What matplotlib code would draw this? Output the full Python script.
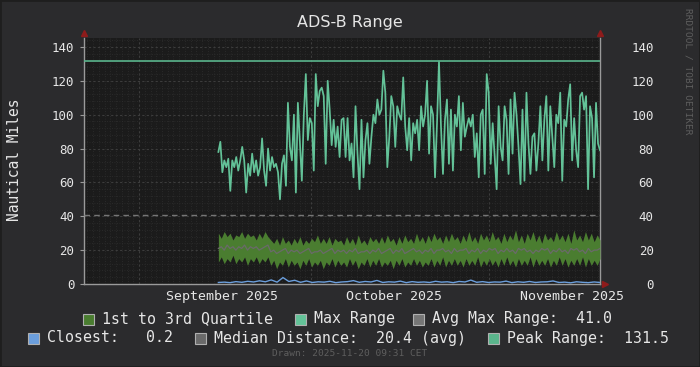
import datetime as dt
import numpy as np
import matplotlib
matplotlib.use("Agg")
import matplotlib.pyplot as plt
import matplotlib.dates as mdates
import matplotlib.transforms as mtransforms
from matplotlib.patches import Rectangle

# time span of the graph
t_start = dt.datetime(2025, 8, 22, 9, 31)
t_end = dt.datetime(2025, 11, 20, 9, 31)
t_data = dt.datetime(2025, 9, 14, 20, 0)

months = [dt.datetime(2025, 9, 1), dt.datetime(2025, 10, 1), dt.datetime(2025, 11, 1)]
month_labels = ["September 2025", "October 2025", "November 2025"]

peak_range = 131.5
avg_max_range = 41.0
median_avg = 20.4
closest_min = 0.2

max_range = [78, 84, 66, 73, 69, 74, 55, 73, 69, 75, 67, 73, 81, 73, 54, 71, 64, 77, 66, 73,
             64, 69, 86, 67, 58, 80, 67, 75, 69, 71, 66, 50, 71, 76, 58, 107, 81, 73, 100, 54,
             107, 84, 61, 100, 124, 85, 98, 95, 67, 124, 105, 114, 116, 111, 71, 120, 103, 82, 97,
             81, 93, 75, 97, 98, 75, 98, 73, 83, 63, 105, 77, 56, 97, 63, 85, 95, 71, 87, 100,
             95, 109, 100, 103, 126, 113, 69, 87, 111, 105, 81, 105, 100, 97, 122, 93, 79, 98, 73,
             95, 89, 97, 79, 105, 93, 100, 120, 77, 105, 100, 63, 95, 131.5, 93, 65, 97, 109, 71,
             103, 67, 100, 93, 111, 79, 107, 87, 93, 98,
             93, 100, 75, 89, 63, 100, 103, 65, 124, 113, 71, 95, 75, 56, 105, 81, 73, 105, 97,
             65, 109, 77, 113, 100, 81, 59, 103, 61, 113, 83, 65, 87, 89, 67, 83, 105, 73, 97,
             111, 67, 105, 87, 69, 100, 95, 113, 61, 97, 93, 109, 118, 73, 98, 79, 69, 111, 113,
             103, 111, 56, 105, 98, 63, 107, 83, 79]

q3 = [30, 27, 31, 28, 30, 26, 29, 28, 31, 27, 30, 28, 29, 26, 30, 27, 31, 28,
      26, 24, 27, 23, 28, 24, 26, 23, 27, 24, 28, 23, 26, 24, 27, 25, 29, 24,
      27, 24, 28, 23, 27, 25, 26, 23, 28, 24, 27, 23, 29, 24, 26, 23, 28, 25,
      27, 24, 28, 24, 29, 25, 27, 23, 28, 24, 29, 25, 27, 24, 30, 25, 28, 24,
      29, 25, 30, 26, 28, 24, 29, 25, 30, 26, 28, 24, 29, 25, 31, 25, 28, 24,
      30, 26, 29, 25, 31, 26, 28, 24, 30, 25, 29, 26, 32, 25, 29, 24, 30, 26,
      31, 25, 29, 24, 30, 26, 28, 25, 31, 26, 29, 25, 30, 24, 32, 26, 29, 25,
      31, 26, 30, 25, 29, 26]

q1 = [13, 16, 12, 15, 13, 17, 12, 15, 13, 16, 11, 15, 13, 16, 12, 15, 13, 16,
      11, 14, 9, 13, 11, 15, 10, 14, 11, 13, 9, 14, 11, 15, 10, 13, 11, 14,
      9, 13, 11, 15, 10, 14, 11, 13, 10, 15, 11, 14, 9, 13, 11, 15, 10, 14,
      11, 15, 10, 13, 11, 14, 9, 14, 11, 15, 10, 13, 11, 15, 11, 14, 10, 13,
      11, 15, 10, 14, 11, 16, 10, 14, 11, 15, 11, 14, 10, 15, 11, 14, 11, 16,
      10, 14, 11, 15, 11, 14, 10, 15, 11, 16, 11, 14, 10, 15, 11, 14, 11, 16,
      10, 15, 11, 14, 11, 15, 10, 14, 11, 16, 11, 15, 10, 14, 11, 15, 11, 16,
      10, 15, 11, 14, 11, 15]

median = [21, 22, 20, 23, 21, 22, 20, 22, 21, 23, 20, 22, 21, 22, 20, 21, 22, 23,
          19, 20, 18, 19, 20, 21, 18, 20, 19, 20, 18, 19, 20, 21, 18, 19, 19, 20,
          18, 19, 20, 21, 18, 20, 19, 20, 18, 20, 19, 21, 18, 19, 19, 20, 18, 20,
          19, 21, 18, 19, 20, 21, 18, 20, 19, 21, 18, 19, 20, 21, 19, 20, 18, 20,
          19, 21, 18, 20, 20, 21, 19, 20, 18, 21, 19, 20, 20, 21, 18, 20, 19, 21,
          18, 20, 19, 21, 20, 21, 18, 20, 19, 21, 19, 20, 18, 21, 20, 21, 19, 20,
          18, 20, 19, 21, 20, 21, 18, 20, 19, 21, 19, 20, 18, 21, 20, 21, 19, 20,
          18, 21, 19, 20, 20, 21]

closest = [0.9, 1.1, 0.8, 1.4, 1.0, 1.6, 1.2, 1.9, 1.3, 2.4, 1.1, 3.8, 1.5, 2.2, 1.0, 1.8,
           0.9, 1.3, 1.1, 1.6, 0.8, 1.2, 1.4, 2.0, 1.0, 1.5, 1.2, 2.1, 0.9, 1.3, 1.1, 1.7,
           0.8, 1.4, 1.0, 1.2, 0.9, 1.6, 1.1, 1.3, 0.8, 1.5, 1.2, 2.3, 1.0, 1.4, 0.9, 1.2,
           1.1, 1.7, 0.8, 1.3, 1.0, 1.5, 0.9, 1.2, 1.3, 1.8, 0.9, 1.1, 0.7, 1.3, 1.0, 0.8,
           1.2, 0.9]

# colours
BG = "#2b2b2d"
CANVAS = "#1b1b1b"
FG = "#e6e6e6"
C_QUART = "#4a7d30"
C_MAX = "#63c298"
C_PEAK = "#5ab58c"
C_AVG = "#767676"
C_MED = "#6a6a6a"
C_CLOSE = "#6b9edc"
MONO = "DejaVu Sans Mono"

fig = plt.figure(figsize=(7, 3.67), dpi=100, facecolor=BG)
ax = fig.add_axes([84/700, 1-284/367, 516/700, 246/367])
ax.set_facecolor(CANVAS)

x0 = mdates.date2num(t_start)
x1 = mdates.date2num(t_end)
xd = mdates.date2num(t_data)

t_max = np.linspace(xd, x1, len(max_range))
t_q = np.linspace(xd, x1, len(q3))
t_c = np.linspace(xd, x1, len(closest))

ax.fill_between(t_q, q1, q3, color=C_QUART, lw=0, zorder=3)
ax.plot(t_q, median, color=C_MED, lw=0.9, zorder=4)
ax.plot(t_c, closest, color=C_CLOSE, lw=1.0, zorder=4)
ax.plot(t_max, max_range, color=C_MAX, lw=1.25, zorder=5)
ax.axhline(peak_range, color=C_PEAK, lw=1.2, zorder=5)
ax.axhline(avg_max_range, color=C_AVG, lw=1.0, ls=(0, (4, 3)), zorder=4)

ax.set_xlim(x0, x1)
ax.set_ylim(0, 145.3)

# grid
ax.set_yticks(np.arange(0, 141, 20))
ax.set_yticks(np.arange(0, 145, 4), minor=True)
ax.set_xticks([mdates.date2num(m) for m in months])
ax.set_xticks(np.arange(np.ceil(x0), x1, 1), minor=True)
ax.set_xticklabels([])
ax.grid(which="major", color="#3c3c3c", ls=(0, (2, 2)), lw=0.8)
ax.grid(which="minor", color="#2e2e2e", ls=(0, (1, 2)), lw=0.6)
ax.set_axisbelow(True)

ax.tick_params(axis="y", which="major", colors="#9a9a9a", labelcolor=FG,
               labelsize=9, length=3, width=0.8, pad=4, right=True, labelright=True)
ax.tick_params(axis="x", which="major", length=0)
ax.tick_params(which="minor", length=0)
# right-hand labels end ~48 px right of the axis
off = mtransforms.ScaledTranslation(44/100, 0, fig.dpi_scale_trans)
for tick in ax.yaxis.get_major_ticks():
    tick.label1.set_fontfamily(MONO)
    tick.label2.set_fontfamily(MONO)
    tick.label2.set_horizontalalignment("right")
    tick.tick2line.set_visible(False)
    tick.label2.set_transform(tick.label2.get_transform() + off)

ax.spines["top"].set_visible(False)
for side in ["left", "bottom", "right"]:
    ax.spines[side].set_color("#9a9a9a")
    ax.spines[side].set_linewidth(1.0)

# axis arrows
arr = "#8e1b1b"
ax.plot([0], [1.02], marker="^", ms=5, color=arr, transform=ax.transAxes, clip_on=False)
ax.plot([1], [1.02], marker="^", ms=5, color=arr, transform=ax.transAxes, clip_on=False)
ax.plot([1.01], [0], marker=">", ms=5, color=arr, transform=ax.transAxes, clip_on=False)

# month labels centred in each month
for m, lab in zip(months, month_labels):
    mid = mdates.date2num(m) + 14.5
    ax.text(mid, -0.05, lab, transform=ax.get_xaxis_transform(), ha="center", va="center",
            color=FG, fontsize=9.5, family=MONO)

# titles
fig.text(350/700, 1-22/367, "ADS-B Range", ha="center", va="center", color=FG, fontsize=11.5)
fig.text(15/700, 1-160/367, "Nautical Miles", rotation=90, ha="center", va="center",
         color=FG, fontsize=10.5, family=MONO)
fig.text(688/700, 1-8/367, "RRDTOOL / TOBI OETIKER", rotation=270, ha="center", va="top",
         color="#5e5e5e", fontsize=6.8, family=MONO)
fig.text(350/700, 1-354/367, "Drawn: 2025-11-20 09:31 CET", ha="center", va="center",
         color="#5e5e5e", fontsize=6.8, family=MONO)

# legend
legend = [
    (83, 319, C_QUART, "1st to 3rd Quartile"),
    (295, 319, C_MAX, "Max Range"),
    (413, 319, C_AVG, "Avg Max Range:  %.1f" % avg_max_range),
    (28, 338, C_CLOSE, "Closest:   %.1f" % closest_min),
    (195, 338, C_MED, "Median Distance:  %.1f (avg)" % median_avg),
    (488, 338, C_PEAK, "Peak Range:  %.1f" % peak_range),
]
for px, py, col, txt in legend:
    fig.patches.append(Rectangle((px/700, 1-(py+6)/367), 11/700, 11/367, transform=fig.transFigure,
                                 facecolor=col, edgecolor="#b0b0b0", lw=0.8))
    fig.text((px+19)/700, 1-py/367, txt, ha="left", va="center", color=FG,
             fontsize=10.7, family=MONO)

fig.patches.append(Rectangle((0, 0), 1, 1, transform=fig.transFigure, fill=False,
                             edgecolor="#1e1e1e", lw=2))

plt.savefig("out.png", dpi=100, facecolor=BG)
